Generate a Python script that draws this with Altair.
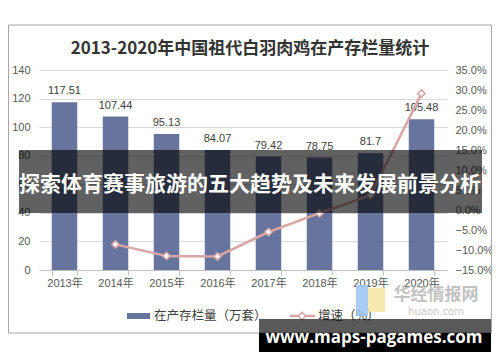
import altair as alt
import pandas as pd

years = ["2013年", "2014年", "2015年", "2016年", "2017年", "2018年", "2019年", "2020年"]
stock = [117.51, 107.44, 95.13, 84.07, 79.42, 78.75, 81.7, 105.48]
growth_years = ["2014年", "2015年", "2016年", "2017年", "2018年", "2019年", "2020年"]
growth = [-8.6, -11.5, -11.6, -5.5, -0.8, 3.7, 29.1]
left_ticks = [0, 20, 40, 60, 80, 100, 120, 140]
right_ticks = [-15, -10, -5, 0, 5, 10, 15, 20, 25, 30, 35]

title_text = "2013-2020年中国祖代白羽肉鸡在产存栏量统计"
banner_text = "探索体育赛事旅游的五大趋势及未来发展前景分析"
legend_bar = "在产存栏量（万套）"
legend_line = "增速（%）"
logo_cn = "华经情报网"
logo_en = "huaon.com"
watermark = "www.maps-pagames.com"

df_bar = pd.DataFrame({"year": years, "stock": stock})
df_line = pd.DataFrame({"year": growth_years, "growth": growth})

FONT = "Liberation Sans, Noto Sans CJK SC"
CJK = "Noto Sans CJK SC"
BAR = "#67749e"
LINE = "#d9a5a5"

xenc = alt.X("year:N", sort=years, title=None,
             scale=alt.Scale(paddingInner=0.5, paddingOuter=0.25),
             axis=alt.Axis(labelAngle=0, labelColor="#595959", labelFont=FONT, labelFontSize=11,
                           domainColor="#bfbfbf", tickColor="#bfbfbf", tickSize=5,
                           tickBand="extent", labelPadding=2, labelOverlap=False))

yleft = alt.Y("stock:Q", title=None,
              scale=alt.Scale(domain=[0, 140], nice=False),
              axis=alt.Axis(orient="left", values=left_ticks,
                            domain=False, ticks=False, labelColor="#595959",
                            labelFont=FONT, labelFontSize=11, labelPadding=9,
                            labelOverlap=False, labelFlush=False,
                            gridColor="#d9d9d9", grid=True))

yright = alt.Y("growth:Q", title=None,
               scale=alt.Scale(domain=[-15, 35], nice=False, zero=False),
               axis=alt.Axis(orient="right", values=right_ticks,
                             labelExpr="format(datum.value, '.1f') + '%'",
                             domain=False, ticks=False, grid=False, labelColor="#595959",
                             labelFont=FONT, labelFontSize=11, labelPadding=8,
                             labelOverlap=False, labelFlush=False))

bars = alt.Chart(df_bar).mark_bar(color=BAR).encode(x=xenc, y=yleft)
labels = alt.Chart(df_bar).mark_text(dy=-6, baseline="bottom", font=FONT, fontSize=11,
                                     color="#404040").encode(
    x=xenc, y=yleft, text=alt.Text("stock:Q"))
left = alt.layer(bars, labels)

line = alt.Chart(df_line).mark_line(color=LINE, strokeWidth=2.5).encode(x=xenc, y=yright)
pts = alt.Chart(df_line).mark_point(shape="diamond", filled=True, fill="white", stroke=LINE,
                                    strokeWidth=1.5, size=55, opacity=1).encode(x=xenc, y=yright)
right = alt.layer(line, pts)

one = alt.Data(values=[{"k": 1}])

border = alt.Chart(one).mark_rect(fill=None, stroke="#a6a6a6", strokeWidth=1).encode(
    x=alt.value(-30.5), x2=alt.value(452.5), y=alt.value(-45), y2=alt.value(263))
title = alt.Chart(one).mark_text(text=title_text, font=CJK, fontWeight="bold", fontSize=17,
                                 color="#333333", align="center", baseline="middle").encode(
    x=alt.value(211), y=alt.value(-21))

banner = alt.Chart(one).mark_rect(color="black", opacity=0.62).encode(
    x=alt.value(-20), x2=alt.value(443), y=alt.value(80), y2=alt.value(143))
banner_t = alt.Chart(one).mark_text(text=banner_text, font=CJK, fontWeight="bold", fontSize=21,
                                    color="white", align="center", baseline="middle").encode(
    x=alt.value(211), y=alt.value(115))

leg_sw = alt.Chart(one).mark_rect(color=BAR).encode(
    x=alt.value(88), x2=alt.value(111), y=alt.value(243), y2=alt.value(249))
leg_t1 = alt.Chart(one).mark_text(text=legend_bar, font=CJK, fontSize=12.5, color="#404040",
                                  align="left", baseline="middle").encode(
    x=alt.value(115), y=alt.value(246))
leg_ln = alt.Chart(one).mark_rule(color=LINE, strokeWidth=2.5).encode(
    x=alt.value(251), x2=alt.value(276), y=alt.value(246))
leg_pt = alt.Chart(one).mark_point(shape="diamond", filled=True, fill="white", stroke=LINE,
                                   strokeWidth=1.5, size=55, opacity=1).encode(
    x=alt.value(263), y=alt.value(246))
leg_t2 = alt.Chart(one).mark_text(text=legend_line, font=CJK, fontSize=12.5, color="#404040",
                                  align="left", baseline="middle").encode(
    x=alt.value(279), y=alt.value(246))

logo_b = alt.Chart(one).mark_rect(color="#9cc3f2", opacity=0.85).encode(
    x=alt.value(317), x2=alt.value(329), y=alt.value(215), y2=alt.value(246))
logo_y = alt.Chart(one).mark_rect(color="#f7e6a0", opacity=0.85).encode(
    x=alt.value(329), x2=alt.value(346), y=alt.value(218), y2=alt.value(242))
logo_t = alt.Chart(one).mark_text(text=logo_cn, font=CJK, fontWeight="bold", fontSize=17,
                                  color="#b3b3b3", opacity=0.8, align="center",
                                  baseline="middle").encode(
    x=alt.value(397), y=alt.value(225))
logo_t2 = alt.Chart(one).mark_text(text=logo_en, font="DejaVu Sans", fontSize=10,
                                   color="#c8c8c8", align="center", baseline="middle").encode(
    x=alt.value(397), y=alt.value(242))

wm_box = alt.Chart(one).mark_rect(color="black", opacity=0.65).encode(
    x=alt.value(220), x2=alt.value(452), y=alt.value(249), y2=alt.value(282))
wm_box2 = alt.Chart(one).mark_rect(color="black").encode(
    x=alt.value(220), x2=alt.value(452), y=alt.value(263), y2=alt.value(282))
wm_t = alt.Chart(one).mark_text(text=watermark, font="Open Sans", fontWeight="bold", fontSize=17,
                                color="white", align="center", baseline="alphabetic").encode(
    x=alt.value(335), y=alt.value(273))

chart = alt.layer(
    left, right, border, title, banner, banner_t,
    leg_sw, leg_t1, leg_ln, leg_pt, leg_t2,
    logo_b, logo_y, logo_t, logo_t2,
    wm_box, wm_box2, wm_t,
).resolve_scale(y="independent").properties(
    width=408, height=200,
    autosize=alt.AutoSizeParams(type="none"),
    padding={"left": 31, "top": 62, "right": 45, "bottom": 84},
    background="white",
).configure_view(stroke=None)

chart.save("out.html", embed_options={"renderer": "svg", "actions": False})
